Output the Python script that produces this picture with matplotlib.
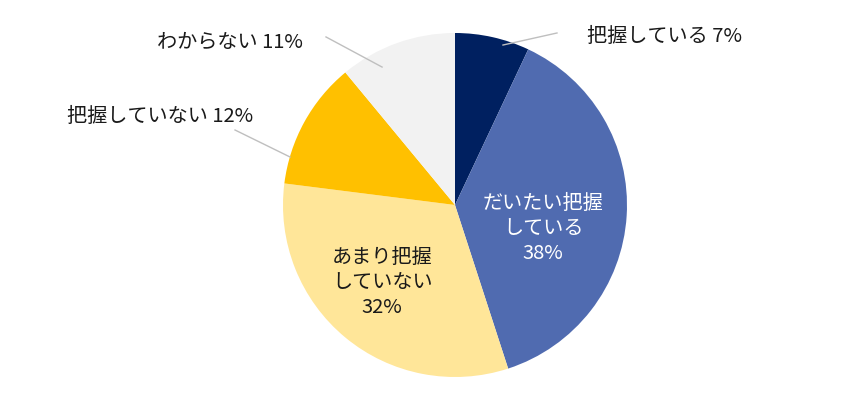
import matplotlib.pyplot as plt

plt.rcParams['font.family'] = ['Noto Sans CJK JP', 'DejaVu Sans']

labels = ['把握している', 'だいたい把握\nしている', 'あまり把握\nしていない', '把握していない', 'わからない']
values = [7, 38, 32, 12, 11]
colors = ['#002060', '#506BB0', '#FFE699', '#FFC000', '#F2F2F2']

fig = plt.figure(figsize=(8.48, 3.97), dpi=100)
ax = fig.add_axes([0.3337, 0.0504, 0.4057, 0.8665])
ax.pie(values, colors=colors, startangle=90, counterclock=False, radius=1)
ax.set_xlim(-1, 1)
ax.set_ylim(-1, 1)
ax.set_aspect('equal')
ax.axis('off')

fs = 14.5
line_c = '#BFBFBF'
txt_c = '#1a1a1a'

# inside labels
ax.text(0.512, -0.134, f'{labels[1]}\n{values[1]}%', ha='center', va='center',
        color='white', fontsize=fs, linespacing=1.25)
ax.text(-0.424, -0.448, f'{labels[2]}\n{values[2]}%', ha='center', va='center',
        color=txt_c, fontsize=fs, linespacing=1.25)

# outside labels with leader lines
ax.plot([0.279, 0.593], [0.930, 1.0], color=line_c, lw=1, clip_on=False)
ax.text(0.767, 0.977, f'{labels[0]} {values[0]}%', ha='left', va='center',
        fontsize=fs, color=txt_c)

ax.plot([-0.75, -0.424], [0.977, 0.802], color=line_c, lw=1, clip_on=False)
ax.text(-0.884, 0.948, f'{labels[4]} {values[4]}%', ha='right', va='center',
        fontsize=fs, color=txt_c)

ax.plot([-1.279, -0.959], [0.436, 0.279], color=line_c, lw=1, clip_on=False)
ax.text(-1.174, 0.517, f'{labels[3]} {values[3]}%', ha='right', va='center',
        fontsize=fs, color=txt_c)

fig.savefig('out.png', dpi=100)
